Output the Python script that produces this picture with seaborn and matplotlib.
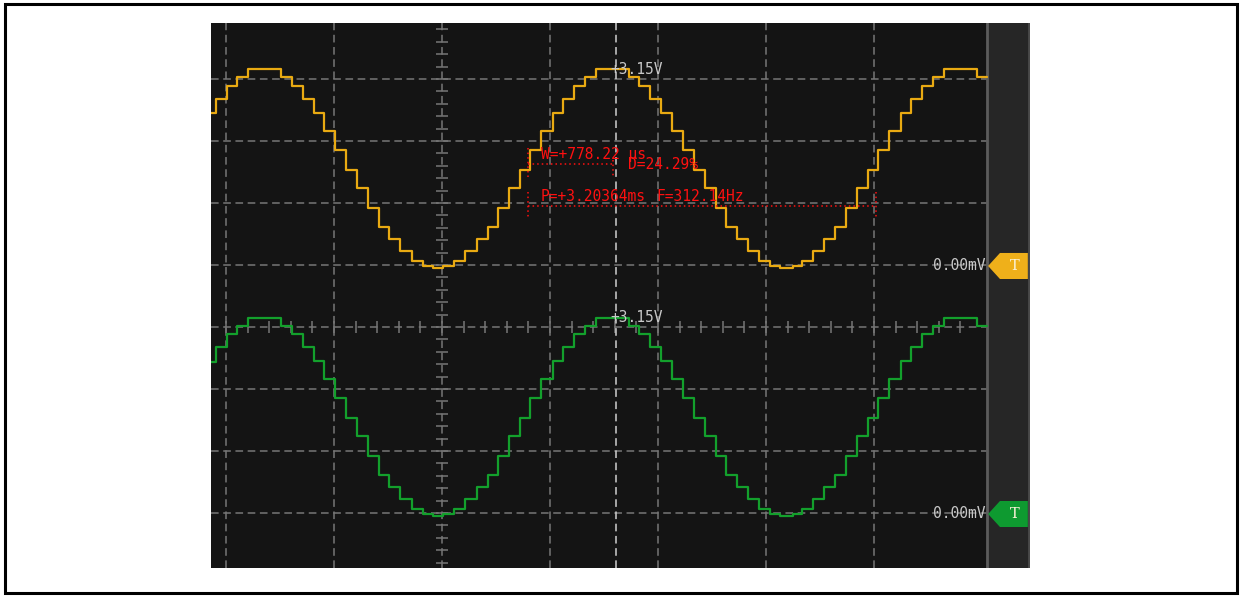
import matplotlib
matplotlib.use("Agg")
import matplotlib.pyplot as plt
import matplotlib.patches as patches
import numpy as np
import seaborn as sns

# time axis in ms (1 ms per division), voltages in V (1 V per division)
ch1_t = [-2.139, -2.093, -1.991, -1.898, -1.796, -1.491, -1.389, -1.287, -1.185, -1.093,
         -0.991, -0.889, -0.787, -0.685, -0.583, -0.491, -0.389, -0.278, -0.176, -0.083,
         0.009, 0.111, 0.213, 0.324, 0.426, 0.519, 0.620, 0.722, 0.815, 0.917,
         1.028, 1.120, 1.222, 1.324, 1.426, 1.731, 1.824, 1.926, 2.028, 2.130,
         2.231, 2.333, 2.435, 2.537, 2.630, 2.731, 2.833, 2.935, 3.037, 3.130,
         3.250, 3.333, 3.435, 3.537, 3.639, 3.741, 3.843, 3.944, 4.037, 4.139,
         4.250, 4.343, 4.444, 4.546, 4.648, 4.954, 5.046]
ch1_v = [2.47, 2.70, 2.90, 3.04, 3.17, 3.04, 2.90, 2.70, 2.47, 2.17,
         1.87, 1.55, 1.26, 0.94, 0.63, 0.43, 0.24, 0.08, 0.00, -0.04,
         0.00, 0.08, 0.24, 0.43, 0.63, 0.94, 1.26, 1.55, 1.87, 2.17,
         2.47, 2.70, 2.90, 3.04, 3.17, 3.04, 2.90, 2.70, 2.47, 2.17,
         1.87, 1.55, 1.26, 0.94, 0.63, 0.43, 0.24, 0.08, 0.00, -0.04,
         0.00, 0.08, 0.24, 0.43, 0.63, 0.94, 1.26, 1.55, 1.87, 2.17,
         2.47, 2.70, 2.90, 3.04, 3.17, 3.04, 3.04]

ch2_t = [-2.139, -2.093, -1.991, -1.898, -1.796, -1.491, -1.389, -1.287, -1.185, -1.093,
         -0.991, -0.889, -0.787, -0.685, -0.583, -0.491, -0.389, -0.278, -0.176, -0.083,
         0.009, 0.111, 0.213, 0.324, 0.426, 0.519, 0.620, 0.722, 0.815, 0.917,
         1.028, 1.120, 1.222, 1.324, 1.426, 1.731, 1.824, 1.926, 2.028, 2.130,
         2.231, 2.333, 2.435, 2.537, 2.630, 2.731, 2.833, 2.935, 3.037, 3.130,
         3.250, 3.333, 3.435, 3.537, 3.639, 3.741, 3.843, 3.944, 4.037, 4.139,
         4.250, 4.343, 4.444, 4.546, 4.648, 4.954, 5.046]
ch2_v = [2.45, 2.70, 2.90, 3.04, 3.16, 3.04, 2.90, 2.70, 2.47, 2.17,
         1.87, 1.55, 1.26, 0.94, 0.63, 0.43, 0.24, 0.08, 0.00, -0.03,
         0.00, 0.08, 0.24, 0.43, 0.63, 0.94, 1.26, 1.55, 1.87, 2.17,
         2.47, 2.70, 2.90, 3.04, 3.16, 3.04, 2.90, 2.70, 2.47, 2.17,
         1.87, 1.55, 1.26, 0.94, 0.63, 0.43, 0.24, 0.08, 0.00, -0.03,
         0.00, 0.08, 0.24, 0.43, 0.63, 0.94, 1.26, 1.55, 1.87, 2.17,
         2.47, 2.70, 2.90, 3.04, 3.16, 3.04, 3.04]

ch1_offset = 0.984   # divisions above centre
ch2_offset = -3.016
peak_label = "+3.15V"
zero_label = "0.00mV"
trig_time = 1.611
meas_w = "W=+778.22 \u03bcs"
meas_d = "D=24.29%"
meas_p = "P=+3.20364ms"
meas_f = "F=312.14Hz"

bg = "#141414"
grid_c = "#777777"
yel = "#e9aa12"
grn = "#13a02c"
red = "#ff1010"
mono = ["DejaVu Sans Mono", "Liberation Mono"]

sns.set_style("dark")
plt.rcParams["font.family"] = mono

fig = plt.figure(figsize=(12.43, 5.96), dpi=100)
fig.patch.set_facecolor("white")
fig.patches.append(patches.Rectangle((5 / 1243, 3 / 596), 1232 / 1243, 589 / 596,
                                     transform=fig.transFigure, fill=False,
                                     edgecolor="black", linewidth=2.2))

ax = fig.add_axes([211 / 1243, 1 - 568 / 596, 819 / 1243, 545 / 596])
ax.set_facecolor(bg)
xmin, xmax = -2.139, 5.444
ymin, ymax = -3.887, 4.903
xedge = 5.046
ax.set_xlim(xmin, xmax)
ax.set_ylim(ymin, ymax)
for s in ax.spines.values():
    s.set_visible(False)
ax.set_xticks([])
ax.set_yticks([])
ax.grid(False)

# grid
dash = (0, (5, 3))
ax.vlines(np.arange(-2, 5), ymin, ymax, colors=grid_c, linewidth=1.1, linestyles=dash, zorder=1)
ax.hlines(np.arange(-3, 5), xmin, xedge, colors=grid_c, linewidth=1.1, linestyles=dash, zorder=1)
# minor ticks on centre axes
yt = np.arange(-3.8, 4.9, 0.2)
ax.plot(np.zeros_like(yt), yt, ls="none", marker="_", ms=9, mew=1.1, color=grid_c, zorder=1)
xt = np.arange(-2.0, 5.0, 0.2)
ax.plot(xt, np.zeros_like(xt), ls="none", marker="|", ms=9, mew=1.1, color=grid_c, zorder=1)
# trigger time marker
ax.axvline(trig_time, color="#cfcfcf", linewidth=1.1, linestyle=dash, zorder=2)

# right side panel
ax.axvspan(xedge, xmax, color="#262626", zorder=3)
ax.axvline(xedge, color="#5c5c5c", linewidth=2, zorder=4)
ax.axvline(xmax - 0.01, color="#4a4a4a", linewidth=2, zorder=4)

# traces
sns.lineplot(x=ch1_t, y=np.array(ch1_v) + ch1_offset, ax=ax, color=yel, linewidth=1.6,
             drawstyle="steps-post", estimator=None, sort=False, zorder=5)
sns.lineplot(x=ch2_t, y=np.array(ch2_v) + ch2_offset, ax=ax, color=grn, linewidth=1.6,
             drawstyle="steps-post", estimator=None, sort=False, zorder=5)

# labels
txt_c = "#c8c8c8"
for off in (ch1_offset, ch2_offset):
    ax.text(trig_time - 0.05, off + 3.15 + 0.02, peak_label, color=txt_c, fontsize=10.5,
            va="center", ha="left", zorder=6)
    ax.text(xedge - 0.015, off, zero_label, color=txt_c, fontsize=10.5,
            va="center", ha="right", zorder=6)

# trigger tags
for off, c in ((ch1_offset, "#efb01a"), (ch2_offset, "#0e9a30")):
    tip = xedge + 0.01
    body = tip + 0.11
    right = xmax - 0.02
    h = 0.21
    ax.fill([tip, body, right, right, body], [off, off + h, off + h, off - h, off - h],
            color=c, zorder=7, linewidth=0)
    ax.text((body + right) / 2 + 0.01, off, "T", color="#fbf3d8", fontsize=10.5,
            family="DejaVu Serif", ha="center", va="center", zorder=8)

# measurement cursors
dot = (0, (1, 2))
x_w0 = (528 - 442) / 108
x_w1 = (613 - 442) / 108
x_p1 = (876 - 442) / 108
ax.plot([x_w0, x_w0], [(327 - 148) / 62, (327 - 177) / 62], color=red, lw=1.1, ls=dot, zorder=6)
ax.plot([x_w0, x_w1], [(327 - 164) / 62] * 2, color=red, lw=1.1, ls=dot, zorder=6)
ax.plot([x_w1, x_w1], [(327 - 160) / 62, (327 - 177) / 62], color=red, lw=1.1, ls=dot, zorder=6)
ax.plot([x_w0, x_w0], [(327 - 192) / 62, (327 - 218) / 62], color=red, lw=1.1, ls=dot, zorder=6)
ax.plot([x_w0, x_p1], [(327 - 206) / 62] * 2, color=red, lw=1.1, ls=dot, zorder=6)
ax.plot([x_p1, x_p1], [(327 - 192) / 62, (327 - 217) / 62], color=red, lw=1.1, ls=dot, zorder=6)

ax.text((541 - 442) / 108, (327 - 155) / 62, meas_w, color=red, fontsize=10.5, va="center", zorder=6)
ax.text((628 - 442) / 108, (327 - 165) / 62, meas_d, color=red, fontsize=10.5, va="center", zorder=6)
ax.text((541 - 442) / 108, (327 - 197) / 62, meas_p, color=red, fontsize=10.5, va="center", zorder=6)
ax.text((656 - 442) / 108, (327 - 197) / 62, meas_f, color=red, fontsize=10.5, va="center", zorder=6)

fig.savefig("out.png", dpi=100, facecolor="white")
